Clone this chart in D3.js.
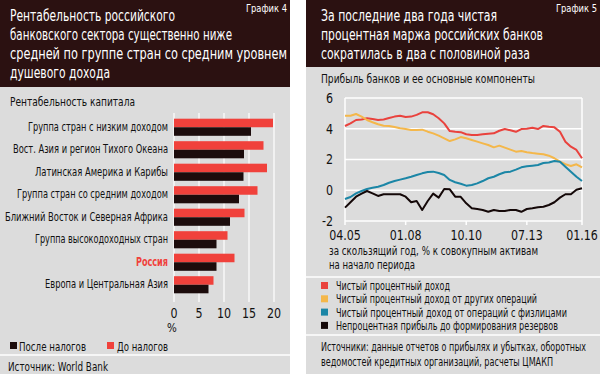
<!DOCTYPE html>
<html>
<head>
<meta charset="utf-8">
<script src="https://cdn.jsdelivr.net/npm/d3@7"></script>
<style>
  body { margin: 0; background: #fff; }
  svg text { font-family: "DejaVu Sans Condensed", "Liberation Sans", sans-serif; }
</style>
</head>
<body>
<div id="chart"></div>
<script>
// ---- chart 4 data ----
var regions = ["Группа стран с низким доходом", "Вост. Азия и регион Тихого Океана",
    "Латинская Америка и Карибы", "Группа стран со средним доходом",
    "Ближний Восток и Северная Африка", "Группа высокодоходных стран",
    "Россия", "Европа и Центральная Азия"];
var beforeTax = [19.8, 17.9, 18.6, 16.7, 14.1, 10.7, 12.1, 7.9];
var afterTax = [15.4, 14.0, 13.9, 13.0, 11.2, 8.5, 8.5, 6.9];
var roeTicks = [0, 5, 10, 15, 20];

// ---- chart 5 data ----
var periods = ["04.05","07.05","10.05","01.06","04.06","07.06","10.06","01.07","04.07","07.07","10.07",
    "01.08","04.08","07.08","10.08","01.09","04.09","07.09","10.09","01.10","04.10","07.10",
    "10.10","01.11","04.11","07.11","10.11","01.12","04.12","07.12","10.12","01.13","04.13",
    "07.13","10.13","01.14","04.14","07.14","10.14","01.15","04.15","07.15","10.15","01.16"];
var netInterest = [4.18,4.35,4.57,4.6,4.68,4.63,4.57,4.6,4.7,4.79,4.85,4.76,4.79,4.9,5.07,5.07,4.94,4.68,4.35,3.85,3.8,3.78,
    3.64,3.6,3.6,3.64,3.68,3.7,3.87,3.98,3.9,3.8,3.98,4.0,4.07,3.98,4.18,4.13,4.09,3.8,3.16,2.83,2.62,2.08];
var otherOps = [4.85,4.85,4.96,4.79,4.57,4.42,4.29,4.2,4.18,4.11,4.03,3.98,3.92,3.92,3.94,3.81,3.7,3.55,3.38,3.2,3.31,3.46,
    3.38,3.27,3.16,3.05,2.94,2.79,2.9,2.77,2.64,2.51,2.55,2.47,2.42,2.38,2.34,2.25,2.08,1.86,1.69,1.58,1.69,1.49];
var retailOps = [-0.57,-0.44,-0.2,-0.05,0.08,0.16,0.23,0.34,0.49,0.6,0.69,0.78,0.88,0.99,1.1,1.19,1.21,1.12,0.99,0.67,0.52,0.42,
    0.3,0.34,0.45,0.6,0.78,0.88,1.04,1.17,1.21,1.34,1.49,1.56,1.6,1.64,1.77,1.81,1.9,1.86,1.53,1.21,0.88,0.6];
var nonInterest = [-1.13,-0.78,-0.42,-0.22,-0.05,-0.2,-0.37,-0.26,-0.26,-0.26,-0.26,-0.42,-0.78,-0.7,-1.28,-0.7,-0.22,-0.48,0.08,0.06,-0.42,-0.43,
    -0.85,-1.17,-1.22,-1.28,-1.4,-1.28,-1.35,-1.35,-1.28,-1.28,-1.4,-1.22,-1.17,-1.1,-1.07,-0.96,-0.78,-0.48,-0.26,-0.26,0.03,0.13];
var xTicks = ["04.05", "01.08", "10.10", "07.13", "01.16"];
var yTicks = [-2, 0, 2, 4, 6];
var seriesNames = ["Чистый процентный доход", "Чистый процентный доход от других операций",
    "Чистый процентный доход от операций с физлицами", "Непроцентная прибыль до формирования резервов"];

var dark = "#2b1111", grey = "#dcdcdc", red = "#f0413b", black = "#1c0c0c";
var lineColors = ["#e9423d", "#f4b74a", "#1b86a6", "#140808"];

// printed widths of the texts in the original (narrow face), px
var textWidth = {
    "Рентабельность российского": 165, "банковского сектора существенно ниже": 222,
    "средней по группе стран со средним уровнем": 277, "душевого дохода": 100,
    "График 4": 41, "График 5": 41, "Рентабельность капитала": 125,
    "Группа стран с низким доходом": 140, "Вост. Азия и регион Тихого Океана": 155,
    "Латинская Америка и Карибы": 133, "Группа стран со средним доходом": 151,
    "Ближний Восток и Северная Африка": 163, "Группа высокодоходных стран": 133,
    "Россия": 32, "Европа и Центральная Азия": 123,
    "После налогов": 67, "До налогов": 51, "Источник: World Bank": 100,
    "За последние два года чистая": 176, "процентная маржа российских банков": 222,
    "сократилась в два с половиной раза": 209, "Прибыль банков и ее основные компоненты": 214,
    "за скользящий год, % к совокупным активам": 209, "на начало периода": 86,
    "Чистый процентный доход": 114, "Чистый процентный доход от других операций": 201,
    "Чистый процентный доход от операций с физлицами": 231,
    "Непроцентная прибыль до формирования резервов": 222,
    "Источники: данные отчетов о прибылях и убытках, оборотных": 265,
    "ведомостей кредитных организаций, расчеты ЦМАКП": 232
};

var svg = d3.select("#chart").append("svg")
    .attr("width", 600).attr("height", 374);

// ================= left panel =================
var left = svg.append("g");
left.append("rect").attr("x", 0).attr("y", 0).attr("width", 290).attr("height", 374).attr("fill", grey);
left.append("rect").attr("x", 0).attr("y", 0).attr("width", 290).attr("height", 87).attr("fill", dark);

var title4 = ["Рентабельность российского", "банковского сектора существенно ниже",
    "средней по группе стран со средним уровнем", "душевого дохода"];
left.selectAll(".t").data(title4).enter().append("text")
    .attr("x", 10).attr("y", function(d, i) { return 21 + i * 19; })
    .attr("fill", "#fff").style("font-size", "15.5px").text(function(d) { return d; });
left.append("text").attr("x", 287).attr("y", 12).attr("text-anchor", "end")
    .attr("fill", "#fff").style("font-size", "10.5px").text("График 4");

left.append("text").attr("x", 10).attr("y", 106).attr("fill", "#111")
    .style("font-size", "13px").text("Рентабельность капитала");

var x4 = d3.scaleLinear().domain([0, 20]).range([174, 274]);
var y4 = d3.scaleBand().domain(regions).range([116, 296]).paddingInner(0.24).paddingOuter(0.12);

left.selectAll(".grid").data(roeTicks).enter().append("line")
    .attr("x1", function(d) { return x4(d); }).attr("x2", function(d) { return x4(d); })
    .attr("y1", 113).attr("y2", 302).attr("stroke", "#fff").attr("stroke-width", 1.2);

var half = y4.bandwidth() / 2;
left.selectAll(".red").data(beforeTax).enter().append("rect")
    .attr("x", x4(0)).attr("y", function(d, i) { return y4(regions[i]); })
    .attr("width", function(d) { return x4(d) - x4(0); }).attr("height", half)
    .attr("fill", red);
left.selectAll(".blk").data(afterTax).enter().append("rect")
    .attr("x", x4(0)).attr("y", function(d, i) { return y4(regions[i]) + half; })
    .attr("width", function(d) { return x4(d) - x4(0); }).attr("height", half)
    .attr("fill", black);

left.selectAll(".lab").data(regions).enter().append("text")
    .attr("x", 168).attr("y", function(d) { return y4(d) + half - 1; })
    .attr("dy", "0.35em").attr("text-anchor", "end")
    .attr("fill", function(d) { return d == "Россия" ? red : "#111"; })
    .style("font-weight", function(d) { return d == "Россия" ? "bold" : "normal"; })
    .style("font-size", "12.5px").text(function(d) { return d; });

left.selectAll(".tick").data(roeTicks).enter().append("text").attr("class", "num")
    .attr("x", function(d) { return x4(d); }).attr("y", 318).attr("text-anchor", "middle")
    .attr("fill", "#111").style("font-size", "14px").text(function(d) { return d; });
left.append("text").attr("class", "num").attr("x", x4(0) - 2).attr("y", 332).attr("text-anchor", "middle")
    .attr("fill", "#111").style("font-size", "13px").text("%");

left.append("rect").attr("x", 10).attr("y", 342).attr("width", 7).attr("height", 7).attr("fill", black);
left.append("text").attr("x", 19).attr("y", 351).attr("fill", "#111").style("font-size", "12.5px").text("После налогов");
left.append("rect").attr("x", 107).attr("y", 342).attr("width", 7).attr("height", 7).attr("fill", red);
left.append("text").attr("x", 117).attr("y", 351).attr("fill", "#111").style("font-size", "12.5px").text("До налогов");

left.append("line").attr("x1", 0).attr("x2", 290).attr("y1", 355).attr("y2", 355)
    .attr("stroke", "#fff").attr("stroke-width", 1.5);
left.append("text").attr("x", 8).attr("y", 371).attr("fill", "#111")
    .style("font-size", "12.5px").text("Источник: World Bank");

// ================= right panel =================
var right = svg.append("g");
right.append("rect").attr("x", 306).attr("y", 0).attr("width", 294).attr("height", 374).attr("fill", grey);
right.append("rect").attr("x", 306).attr("y", 0).attr("width", 294).attr("height", 67).attr("fill", dark);

var title5 = ["За последние два года чистая", "процентная маржа российских банков",
    "сократилась в два с половиной раза"];
right.selectAll(".t").data(title5).enter().append("text")
    .attr("x", 321).attr("y", function(d, i) { return 21 + i * 19; })
    .attr("fill", "#fff").style("font-size", "15.5px").text(function(d) { return d; });
right.append("text").attr("x", 597).attr("y", 12).attr("text-anchor", "end")
    .attr("fill", "#fff").style("font-size", "10.5px").text("График 5");

right.append("text").attr("x", 321).attr("y", 83).attr("fill", "#111")
    .style("font-size", "13px").text("Прибыль банков и ее основные компоненты");

var parse = d3.timeParse("%m.%y");
var dates = periods.map(parse);
var x5 = d3.scaleTime().domain([parse("04.05"), parse("01.16")]).range([345, 582]);
var y5 = d3.scaleLinear().domain([-2, 6]).range([221, 98]);

right.selectAll(".hg").data(yTicks).enter().append("line")
    .attr("x1", 345).attr("x2", 582)
    .attr("y1", function(d) { return y5(d); }).attr("y2", function(d) { return y5(d); })
    .attr("stroke", "#fff").attr("stroke-width", 1.5);
right.selectAll(".vg").data([xTicks[0], xTicks[4]]).enter().append("line")
    .attr("x1", function(d) { return x5(parse(d)); }).attr("x2", function(d) { return x5(parse(d)); })
    .attr("y1", y5(6)).attr("y2", y5(-2)).attr("stroke", "#fff").attr("stroke-width", 1.5);
right.selectAll(".tk").data(xTicks).enter().append("line")
    .attr("x1", function(d) { return x5(parse(d)); }).attr("x2", function(d) { return x5(parse(d)); })
    .attr("y1", y5(-2)).attr("y2", y5(-2) + 4).attr("stroke", "#fff").attr("stroke-width", 1.5);

right.selectAll(".yl").data(yTicks).enter().append("text").attr("class", "num")
    .attr("x", 333).attr("y", function(d) { return y5(d); }).attr("dy", "0.35em")
    .attr("text-anchor", "end").attr("fill", "#111").style("font-size", "14px")
    .text(function(d) { return d; });
right.selectAll(".xl").data(xTicks).enter().append("text").attr("class", "num")
    .attr("x", function(d) { return x5(parse(d)); }).attr("y", 240)
    .attr("text-anchor", "middle").attr("fill", "#111").style("font-size", "14px")
    .text(function(d) { return d; });

var series = [netInterest, otherOps, retailOps, nonInterest];
var line = d3.line()
    .x(function(d, i) { return x5(dates[i]); })
    .y(function(d) { return y5(d); });
right.selectAll(".ln").data(series).enter().append("path")
    .attr("d", line).attr("fill", "none")
    .attr("stroke", function(d, i) { return lineColors[i]; })
    .attr("stroke-width", 2).attr("stroke-linejoin", "round");

right.append("text").attr("x", 329).attr("y", 255).attr("fill", "#111")
    .style("font-size", "12.5px").text("за скользящий год, % к совокупным активам");
right.append("text").attr("x", 329).attr("y", 269).attr("fill", "#111")
    .style("font-size", "12.5px").text("на начало периода");

right.append("line").attr("x1", 306).attr("x2", 600).attr("y1", 277).attr("y2", 277)
    .attr("stroke", "#fff").attr("stroke-width", 1.5);

right.selectAll(".lg").data(seriesNames).enter().append("rect")
    .attr("x", 321).attr("y", function(d, i) { return 282 + i * 13.3; })
    .attr("width", 7).attr("height", 7).attr("fill", function(d, i) { return lineColors[i]; });
right.selectAll(".lt").data(seriesNames).enter().append("text")
    .attr("x", 336).attr("y", function(d, i) { return 290 + i * 13.3; })
    .attr("fill", "#111").style("font-size", "12px").text(function(d) { return d; });

right.append("line").attr("x1", 306).attr("x2", 600).attr("y1", 335).attr("y2", 335)
    .attr("stroke", "#fff").attr("stroke-width", 1.5);
right.append("text").attr("x", 321).attr("y", 351).attr("fill", "#111")
    .style("font-size", "12.5px").text("Источники: данные отчетов о прибылях и убытках, оборотных");
right.append("text").attr("x", 321).attr("y", 366).attr("fill", "#111")
    .style("font-size", "12.5px").text("ведомостей кредитных организаций, расчеты ЦМАКП");

// the original uses a narrow typeface; squeeze the installed one to the printed widths
svg.selectAll("text").each(function() {
    var t = this.textContent;
    var w = textWidth[t] || this.getComputedTextLength() * 0.88;
    this.setAttribute("textLength", w);
    this.setAttribute("lengthAdjust", "spacingAndGlyphs");
});
</script>
</body>
</html>
